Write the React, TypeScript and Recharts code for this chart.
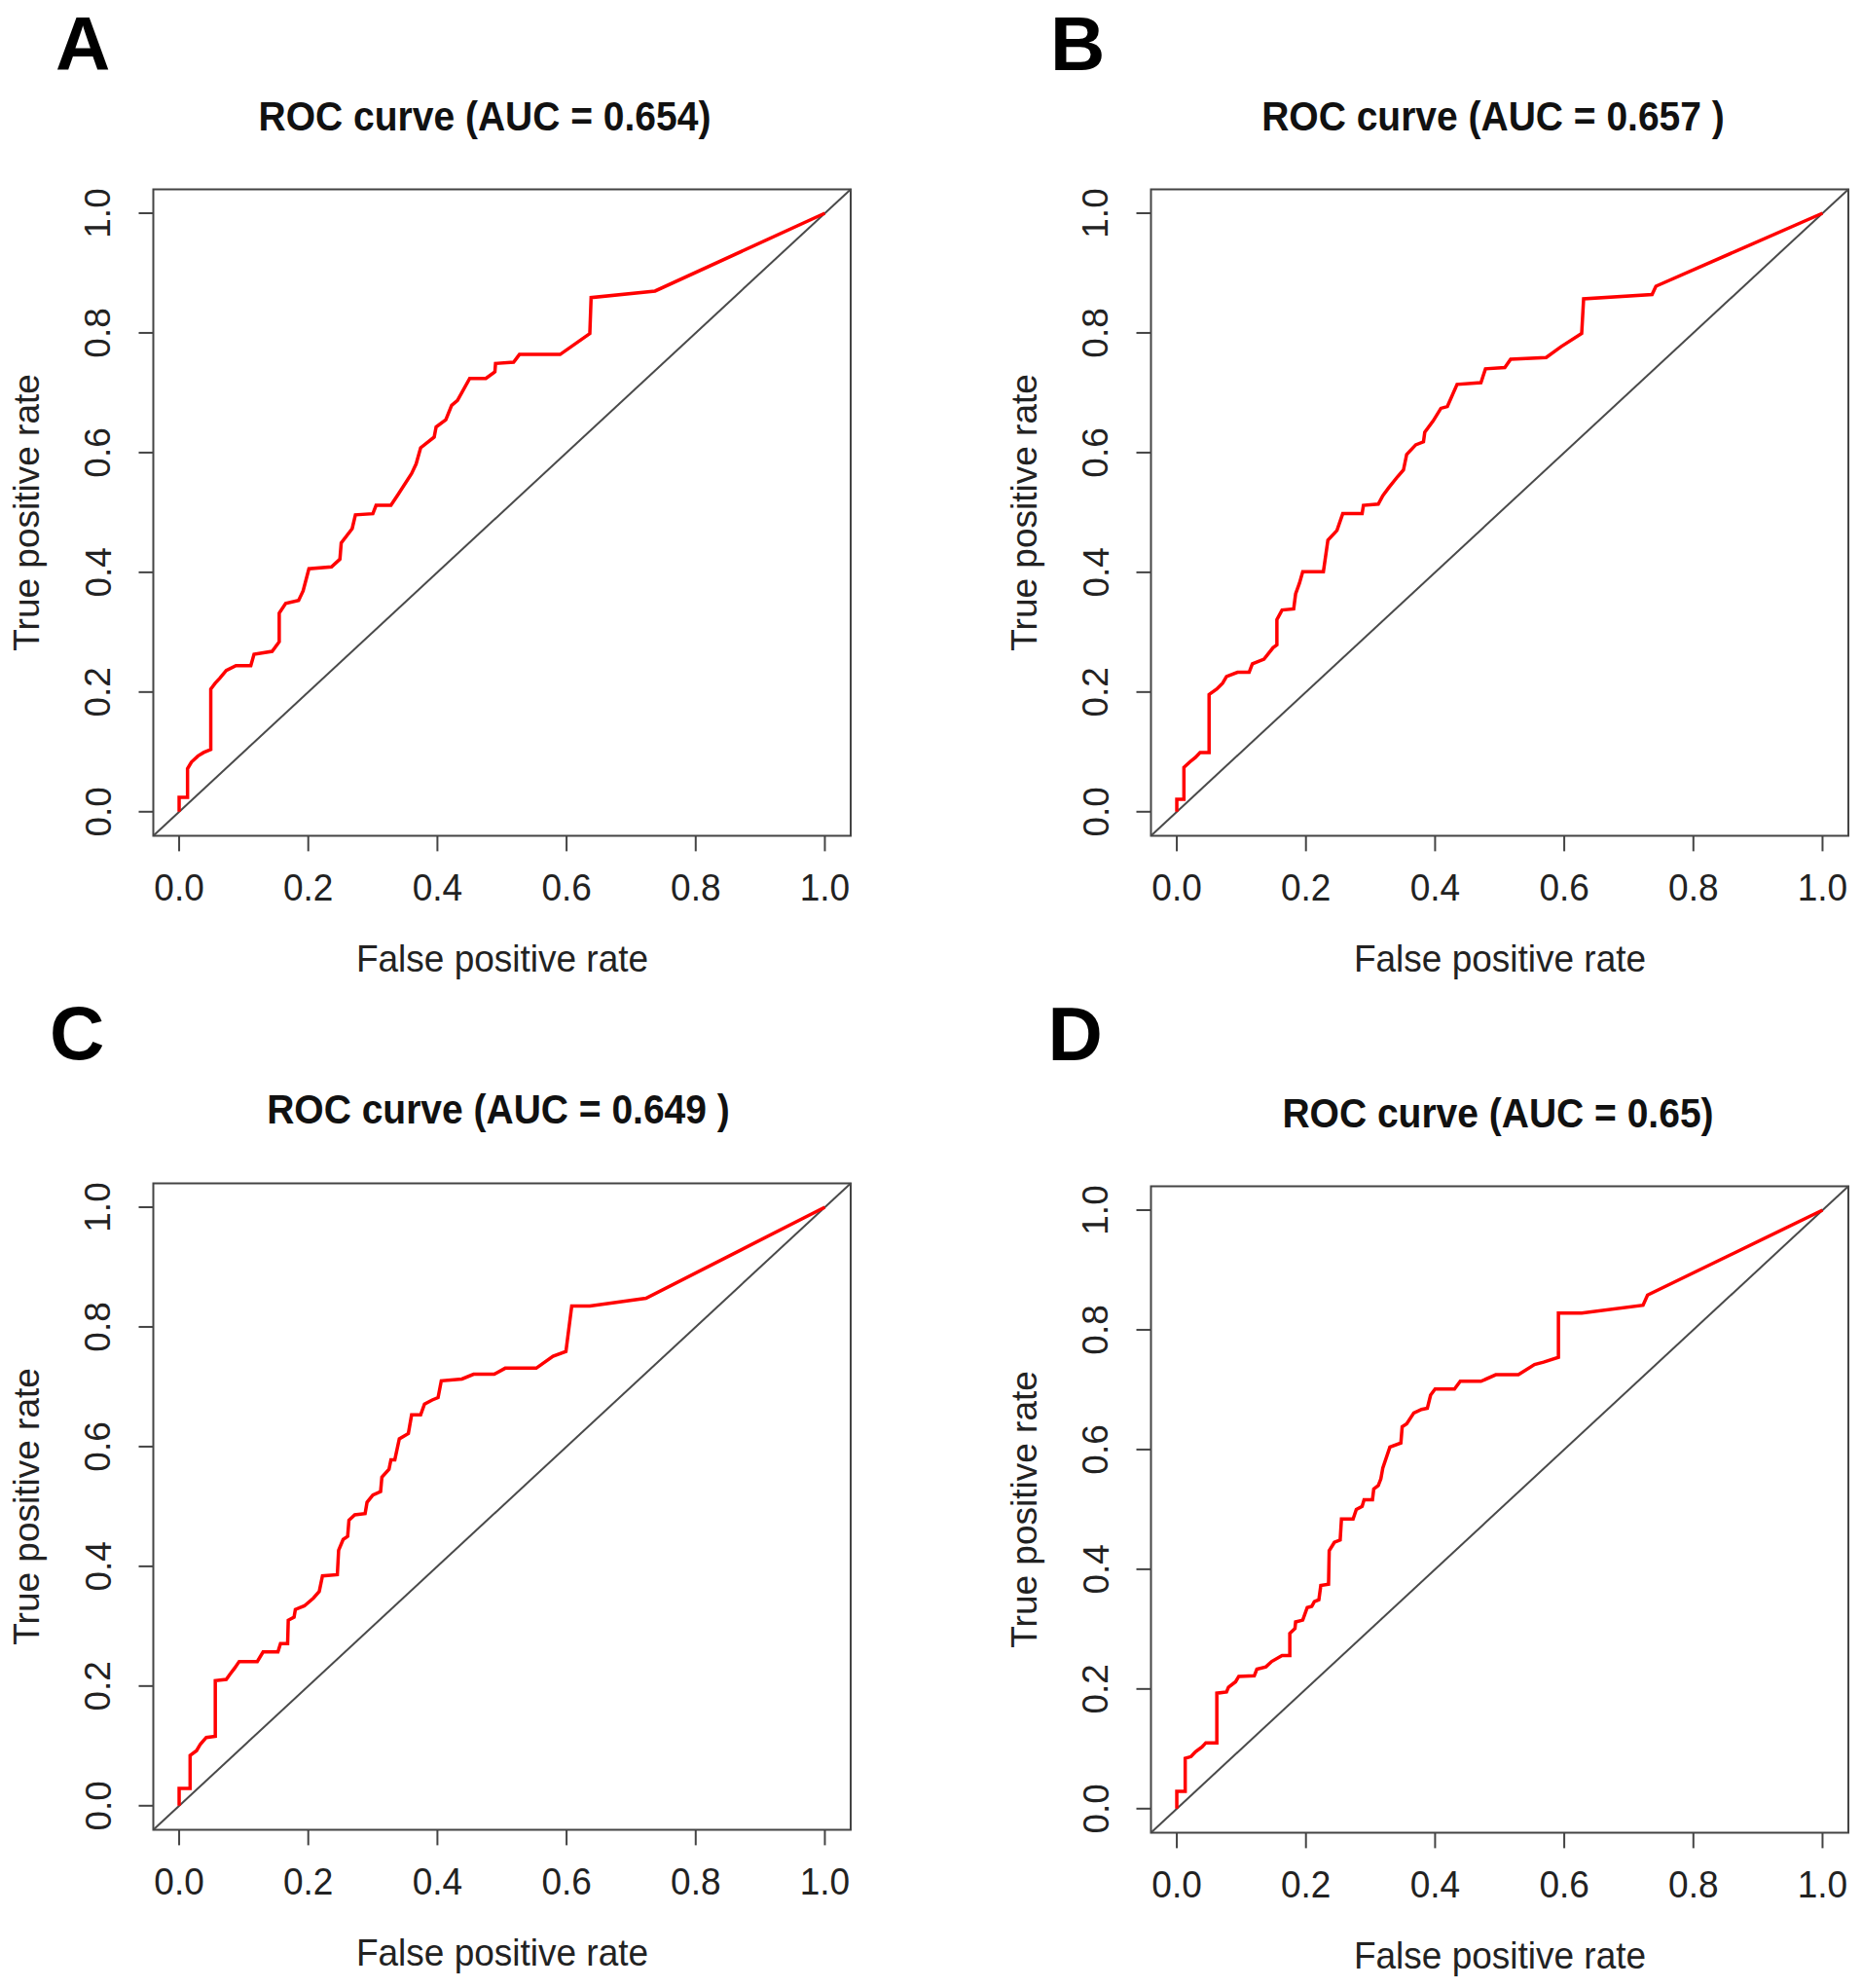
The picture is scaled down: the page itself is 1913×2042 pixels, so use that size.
import { LineChart, Line, XAxis, YAxis, ReferenceLine, ReferenceArea } from "recharts";

const rateTicks = [0, 0.2, 0.4, 0.6, 0.8, 1.0];
const tickLabels = ["0.0", "0.2", "0.4", "0.6", "0.8", "1.0"];
const panelLetters = ["A", "B", "C", "D"];
const panelTitles = [
  "ROC curve (AUC = 0.654)",
  "ROC curve (AUC = 0.657 )",
  "ROC curve (AUC = 0.649 )",
  "ROC curve (AUC = 0.65)",
];

// [false positive rate, true positive rate]
const rocA = [
  [0, 0], [0, 0.024], [0.013, 0.024], [0.013, 0.072], [0.019, 0.083], [0.029, 0.093], [0.038, 0.099],
  [0.049, 0.104], [0.049, 0.205], [0.056, 0.215], [0.063, 0.223], [0.073, 0.236], [0.088, 0.244],
  [0.111, 0.244], [0.116, 0.263], [0.144, 0.268], [0.155, 0.284], [0.155, 0.332], [0.165, 0.348],
  [0.185, 0.353], [0.192, 0.369], [0.201, 0.406], [0.236, 0.409], [0.249, 0.422], [0.251, 0.449],
  [0.268, 0.473], [0.273, 0.496], [0.3, 0.498], [0.305, 0.512], [0.328, 0.512], [0.339, 0.53],
  [0.36, 0.565], [0.367, 0.581], [0.374, 0.608], [0.395, 0.626], [0.398, 0.643], [0.413, 0.655],
  [0.422, 0.679], [0.431, 0.687], [0.45, 0.724], [0.475, 0.724], [0.489, 0.735], [0.49, 0.749],
  [0.518, 0.751], [0.527, 0.764], [0.59, 0.764], [0.636, 0.799], [0.638, 0.859], [0.737, 0.87], [1, 1],
];

const rocB = [
  [0, 0], [0, 0.021], [0.011, 0.021], [0.011, 0.074], [0.02, 0.083], [0.029, 0.091], [0.036, 0.099],
  [0.05, 0.099], [0.05, 0.196], [0.062, 0.205], [0.071, 0.215], [0.077, 0.226], [0.094, 0.233],
  [0.112, 0.233], [0.117, 0.247], [0.135, 0.255], [0.149, 0.274], [0.155, 0.279], [0.155, 0.321],
  [0.163, 0.337], [0.181, 0.339], [0.184, 0.364], [0.19, 0.382], [0.195, 0.401], [0.227, 0.401],
  [0.234, 0.454], [0.248, 0.47], [0.257, 0.498], [0.287, 0.498], [0.289, 0.512], [0.312, 0.514],
  [0.319, 0.528], [0.328, 0.541], [0.342, 0.56], [0.351, 0.571], [0.356, 0.597], [0.37, 0.613],
  [0.382, 0.618], [0.384, 0.634], [0.397, 0.653], [0.409, 0.674], [0.419, 0.677], [0.434, 0.714],
  [0.471, 0.717], [0.478, 0.74], [0.508, 0.742], [0.517, 0.756], [0.572, 0.759], [0.595, 0.777],
  [0.627, 0.799], [0.63, 0.857], [0.736, 0.864], [0.742, 0.878], [1, 1],
];

const rocC = [
  [0, 0], [0, 0.029], [0.017, 0.029], [0.017, 0.084], [0.027, 0.092], [0.033, 0.103], [0.042, 0.114],
  [0.056, 0.116], [0.056, 0.209], [0.073, 0.211], [0.079, 0.22], [0.086, 0.23], [0.093, 0.241],
  [0.121, 0.241], [0.13, 0.257], [0.153, 0.257], [0.157, 0.271], [0.168, 0.271], [0.169, 0.31],
  [0.178, 0.315], [0.18, 0.328], [0.194, 0.334], [0.208, 0.347], [0.217, 0.358], [0.222, 0.384],
  [0.245, 0.386], [0.247, 0.427], [0.254, 0.445], [0.261, 0.45], [0.263, 0.477], [0.272, 0.486],
  [0.288, 0.488], [0.291, 0.507], [0.3, 0.519], [0.312, 0.525], [0.314, 0.549], [0.325, 0.562],
  [0.328, 0.578], [0.334, 0.578], [0.341, 0.613], [0.355, 0.622], [0.36, 0.653], [0.374, 0.653],
  [0.38, 0.671], [0.392, 0.678], [0.401, 0.682], [0.406, 0.71], [0.438, 0.713], [0.456, 0.721],
  [0.488, 0.721], [0.505, 0.731], [0.553, 0.731], [0.579, 0.751], [0.599, 0.759], [0.608, 0.835],
  [0.636, 0.835], [0.723, 0.848], [1, 1],
];

const rocD = [
  [0, 0], [0, 0.029], [0.013, 0.029], [0.013, 0.084], [0.022, 0.087], [0.029, 0.095], [0.039, 0.103],
  [0.045, 0.11], [0.062, 0.11], [0.062, 0.193], [0.077, 0.195], [0.08, 0.203], [0.091, 0.212],
  [0.096, 0.221], [0.12, 0.222], [0.124, 0.233], [0.138, 0.237], [0.147, 0.246], [0.163, 0.256],
  [0.175, 0.256], [0.175, 0.293], [0.183, 0.301], [0.184, 0.312], [0.195, 0.315], [0.202, 0.336],
  [0.209, 0.338], [0.213, 0.346], [0.22, 0.349], [0.223, 0.373], [0.235, 0.375], [0.236, 0.431],
  [0.244, 0.445], [0.253, 0.449], [0.255, 0.484], [0.273, 0.484], [0.278, 0.5], [0.287, 0.505],
  [0.29, 0.516], [0.303, 0.516], [0.305, 0.534], [0.312, 0.54], [0.316, 0.551], [0.319, 0.569],
  [0.33, 0.604], [0.347, 0.611], [0.349, 0.638], [0.356, 0.643], [0.367, 0.661], [0.379, 0.667],
  [0.388, 0.669], [0.393, 0.691], [0.4, 0.701], [0.43, 0.701], [0.439, 0.714], [0.471, 0.714],
  [0.494, 0.725], [0.529, 0.725], [0.554, 0.742], [0.568, 0.746], [0.591, 0.754], [0.591, 0.828],
  [0.627, 0.828], [0.722, 0.841], [0.729, 0.858], [1, 1],
];

const rocSeries = [rocA, rocB, rocC, rocD];

// layout (page pixels)
const FONT = "'Liberation Sans', Arial, Helvetica, sans-serif";
const AXIS = "#444";
const STRETCH = 1.07; // the source figure is slightly taller than wide
const PANEL_W = 885;
const PANEL_H = 1021;
const PLOT_TOP = 194.4;
const PLOT_H = 664;
const XAXIS_H = 95;
const panelPos = [
  { left: 0, top: 0, titleX: 498, titleY: 134, letterX: 57, letterY: 72 },
  { left: 1024.5, top: 0, titleX: 509, titleY: 134, letterX: 54, letterY: 72 },
  { left: 0, top: 1021, titleX: 512, titleY: 133, letterX: 51, letterY: 67 },
  { left: 1024.5, top: 1023.5, titleX: 514, titleY: 134, letterX: 51.5, letterY: 65 },
];

const labelOf = (v: number) => tickLabels[rateTicks.indexOf(v)] ?? v.toFixed(1);

const XTick = (props: any) => {
  const { x, y, payload } = props;
  const base = y + 26.5 * STRETCH;
  return (
    <text
      transform={`translate(${x} ${base}) scale(1 ${STRETCH})`}
      textAnchor="middle"
      fontSize={37}
      fontFamily={FONT}
      fill="#222"
    >
      {labelOf(payload.value)}
    </text>
  );
};

const YTick = (props: any) => {
  const { x, y, payload } = props;
  return (
    <text x={x} y={y} transform={`rotate(-90 ${x} ${y})`} textAnchor="middle" fontSize={37} fontFamily={FONT} fill="#222">
      {labelOf(payload.value)}
    </text>
  );
};

function RocPanel({ index }: { index: number }) {
  const pos = panelPos[index];
  const data = rocSeries[index].map(([fpr, tpr]) => ({ fpr, tpr }));
  const midY = PLOT_TOP + PLOT_H / 2;
  return (
    <div style={{ position: "absolute", left: pos.left, top: pos.top, width: PANEL_W, height: PANEL_H }}>
      <LineChart
        width={PANEL_W}
        height={PLOT_TOP + PLOT_H + XAXIS_H}
        data={data}
        margin={{ top: PLOT_TOP, right: 11, bottom: 0, left: 0 }}
      >
        <XAxis
          type="number"
          dataKey="fpr"
          domain={[-0.04, 1.04]}
          ticks={rateTicks}
          interval={0}
          allowDataOverflow
          axisLine={false}
          tickLine={{ stroke: AXIS, strokeWidth: 2 }}
          tickSize={16}
          tickMargin={22}
          height={XAXIS_H}
          tick={XTick}
        />
        <YAxis
          type="number"
          dataKey="tpr"
          domain={[-0.04, 1.04]}
          ticks={rateTicks}
          interval={0}
          allowDataOverflow
          axisLine={false}
          tickLine={{ stroke: AXIS, strokeWidth: 2 }}
          tickSize={15}
          tickMargin={29}
          width={157.5}
          tick={YTick}
        />
        <ReferenceArea x1={-0.04} x2={1.04} y1={-0.04} y2={1.04} fill="none" fillOpacity={0} stroke={AXIS} strokeWidth={2} />
        <ReferenceLine
          segment={[{ x: -0.04, y: -0.04 }, { x: 1.04, y: 1.04 }]}
          stroke="#4a4a4a"
          strokeWidth={2}
        />
        <Line type="linear" dataKey="tpr" stroke="#f00" strokeWidth={3.5} dot={false} activeDot={false} isAnimationActive={false} />
      </LineChart>
      <svg
        width={PANEL_W}
        height={PANEL_H}
        style={{ position: "absolute", left: 0, top: 0, pointerEvents: "none", overflow: "visible" }}
      >
        <text x={pos.letterX} y={pos.letterY} fontSize={78} fontWeight="bold" fontFamily={FONT} fill="#000">
          {panelLetters[index]}
        </text>
        <text
          transform={`translate(${pos.titleX} ${pos.titleY}) scale(1 ${STRETCH})`}
          textAnchor="middle"
          fontSize={39}
          fontWeight="bold"
          fontFamily={FONT}
          fill="#111"
        >
          {panelTitles[index]}
        </text>
        <text
          transform={`translate(516 998) scale(1 ${STRETCH})`}
          textAnchor="middle"
          fontSize={37}
          fontFamily={FONT}
          fill="#222"
        >
          False positive rate
        </text>
        <text x={40} y={midY} transform={`rotate(-90 40 ${midY})`} textAnchor="middle" fontSize={37} fontFamily={FONT} fill="#222">
          True positive rate
        </text>
      </svg>
    </div>
  );
}

export default function App() {
  return (
    <div style={{ position: "absolute", left: 0, top: 0, width: 1913, height: 2042, overflow: "hidden", background: "#fff" }}>
      {panelLetters.map((_, i) => (
        <RocPanel key={i} index={i} />
      ))}
    </div>
  );
}
